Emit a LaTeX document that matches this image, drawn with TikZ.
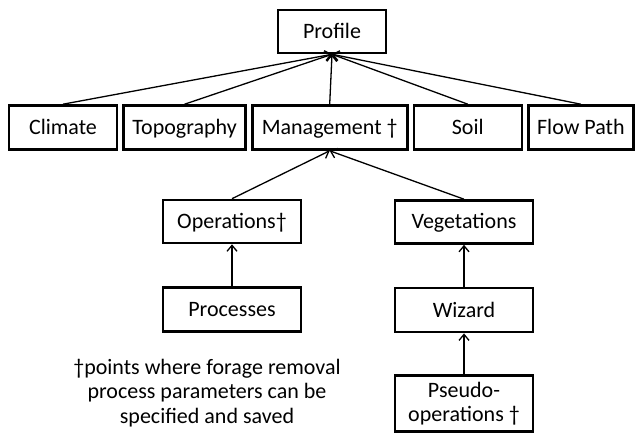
\documentclass[tikz,border=0pt]{standalone}
\usepackage{fontspec}
\setmainfont{Carlito}
\usepackage{tikz}
\usetikzlibrary{positioning,arrows.meta}

\begin{document}
\begin{tikzpicture}[
    x=1pt, y=-1pt,
    node distance=4pt,
    font=\fontsize{22}{24.5}\selectfont,
    box/.style={
        draw,
        line width=2.6pt,
        align=center,
        inner sep=0pt,
        text height=16pt,
        text depth=2pt,
        minimum height=43pt
    },
    arrow/.style={->,>={Straight Barb[length=6pt,width=10pt]},line width=1.3pt}
]
\useasboundingbox (0,0) rectangle (641,436);

\node[box, minimum width=108pt] (profile) at (332,31.5) {Profile};

\node[box, minimum width=108pt, minimum height=44pt] (climate) at (63,127.5) {Climate};
\node[box, minimum width=122pt, minimum height=44pt, right=of climate] (topography) {Topography};
\node[box, minimum width=155pt, minimum height=44pt, right=of topography] (management) {Management †};
\node[box, minimum width=108pt, minimum height=44pt, right=of management] (soil) {Soil};
\node[box, minimum width=105pt, minimum height=44pt, right=of soil] (flowpath) {Flow Path};

\node[box, minimum width=138pt] (operations) at (232,221.5) {Operations†};
\node[box, minimum width=138pt, minimum height=44pt, below=42pt of operations] (processes) {Processes};

\node[box, minimum width=138pt] (vegetations) at (464,222) {Vegetations};
\node[box, minimum width=138pt, minimum height=44pt, below=42pt of vegetations] (wizard) {Wizard};
\node[box, minimum width=138pt, minimum height=56pt, text height=, text depth=, below=41pt of wizard] (pseudo) {Pseudo-\\operations †};

\node[align=center, inner sep=0pt] (note) at (207,393) {†points where forage removal\\process parameters can be\\specified and saved};

\draw[arrow] (climate.north) -- (profile.south);
\draw[arrow] (topography.north) -- (profile.south);
\draw[arrow] (management.north) -- (profile.south);
\draw[arrow] (soil.north) -- (profile.south);
\draw[arrow] (flowpath.north) -- (profile.south);

\draw[arrow] (operations.north) -- (management.south);
\draw[arrow] (vegetations.north) -- (management.south);
\draw[arrow] (processes) -- (operations);
\draw[arrow] (wizard) -- (vegetations);
\draw[arrow] (pseudo) -- (wizard);

\end{tikzpicture}
\end{document}
